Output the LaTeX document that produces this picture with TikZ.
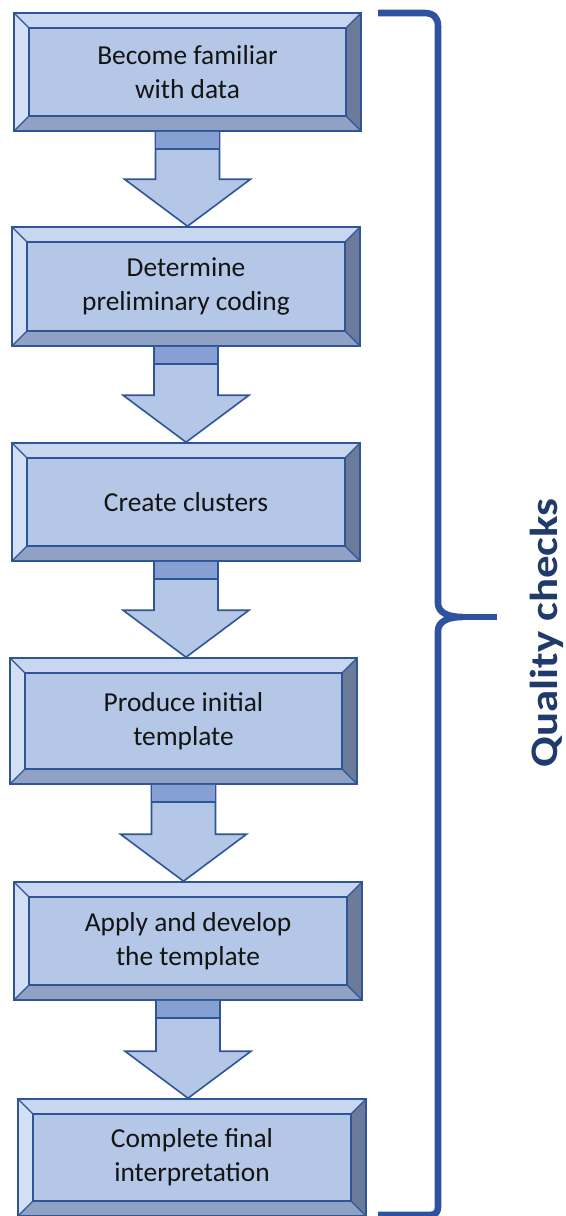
\documentclass[tikz,border=0pt]{standalone}
\usepackage{fontspec}
\setmainfont{Carlito}
\usetikzlibrary{calc}

\definecolor{face}{HTML}{B4C7E7}
\definecolor{bevtop}{HTML}{C8D6EF}
\definecolor{bevleft}{HTML}{D3DFF4}
\definecolor{bevright}{HTML}{6C7B9A}
\definecolor{bevbottom}{HTML}{90A2C3}
\definecolor{edge}{HTML}{2F5597}
\definecolor{banddark}{HTML}{3F62AC}
\definecolor{bandmid}{HTML}{86A0D4}
\definecolor{bracecol}{HTML}{2E51A0}
\definecolor{labelcol}{HTML}{203A6C}
\definecolor{boxtext}{HTML}{141414}

\tikzset{
  bevelbox/.style={
    inner sep=0pt, align=center, text=boxtext,
    font=\fontsize{13.7}{17}\selectfont,
    fill=face, draw=edge, line width=0.8pt,
    path picture={
      \def\bv{7.5pt}
      \path (path picture bounding box.north west) coordinate (pnw)
            (path picture bounding box.south east) coordinate (pse);
      \coordinate (pne) at (pnw -| pse);
      \coordinate (psw) at (pnw |- pse);
      \coordinate (inw) at ($(pnw)+(\bv,-\bv)$);
      \coordinate (ine) at ($(pne)+(-\bv,-\bv)$);
      \coordinate (ise) at ($(pse)+(-\bv,\bv)$);
      \coordinate (isw) at ($(psw)+(\bv,\bv)$);
      \fill[bevtop] (pnw) -- (pne) -- (ine) -- (inw) -- cycle;
      \fill[bevleft] (pnw) -- (inw) -- (isw) -- (psw) -- cycle;
      \fill[bevright] (pne) -- (pse) -- (ise) -- (ine) -- cycle;
      \fill[bevbottom] (psw) -- (isw) -- (ise) -- (pse) -- cycle;
      \draw[edge, line width=0.6pt] (pnw) -- (inw) (pne) -- (ine)
            (pse) -- (ise) (psw) -- (isw);
      \draw[edge, line width=0.8pt, fill=face] (inw) rectangle (ise);
    }},
  flowarrow/.style={fill=face, draw=edge, line width=0.8pt, line join=miter},
  brace/.style={draw=bracecol, line width=3.3pt, line join=round},
}

% block arrow from the bottom of one box to the top of the next
\newcommand\blockarrow[2]{%
  \path let \p1=(#1.south), \p2=(#2.north) in
    [flowarrow] (\x1-16pt,\y1) -- (\x1-16pt,\y2+23.5pt) -- (\x1-31.5pt,\y2+23.5pt)
      -- (\x1,\y2) -- (\x1+31.5pt,\y2+23.5pt) -- (\x1+16pt,\y2+23.5pt)
      -- (\x1+16pt,\y1) -- cycle;
  \path let \p1=(#1.south) in
    [fill=banddark] (\x1-16pt,\y1) rectangle (\x1+16pt,\y1-4.5pt)
    [fill=bandmid] (\x1-16pt,\y1-4.5pt) rectangle (\x1+16pt,\y1-8.5pt);
  \path let \p1=(#1.south) in
    [draw=edge, line width=0.6pt] (\x1-16pt,\y1-8.5pt) -- (\x1+16pt,\y1-8.5pt)
    [draw=edge, line width=0.8pt] (\x1-16pt,\y1) -- (\x1-16pt,\y1-8.5pt)
    (\x1+16pt,\y1) -- (\x1+16pt,\y1-8.5pt);
}

\begin{document}
\begin{tikzpicture}[x=0.5pt, y=-0.5pt]
  \useasboundingbox (0,0) rectangle (566,1216);

  \node[bevelbox, minimum width=173.5pt, minimum height=59pt] (s1) at (187.5,72)
    {Become familiar\\with data};
  \node[bevelbox, minimum width=174pt, minimum height=59.5pt] (s2) at (186,286.5)
    {Determine\\preliminary coding};
  \node[bevelbox, minimum width=174pt, minimum height=59pt] (s3) at (186,502)
    {Create clusters};
  \node[bevelbox, minimum width=173.5pt, minimum height=63pt] (s4) at (183.5,721)
    {Produce initial\\template};
  \node[bevelbox, minimum width=174pt, minimum height=59pt] (s5) at (188,941)
    {Apply and develop\\the template};
  \node[bevelbox, minimum width=174pt, minimum height=58.5pt] (s6) at (192,1157.5)
    {Complete final\\interpretation};

  \blockarrow{s1}{s2}
  \blockarrow{s2}{s3}
  \blockarrow{s3}{s4}
  \blockarrow{s4}{s5}
  \blockarrow{s5}{s6}

  % curly bracket spanning all steps
  \draw[brace] (378,13) -- (424,13) .. controls (433,13) and (438,17) .. (438,26)
    -- (438,603) .. controls (438,612) and (447,617) .. (462,617)
    .. controls (447,617) and (438,622) .. (438,631)
    -- (438,1207) .. controls (438,1213) and (435,1215) .. (429,1215) -- (378,1215);
  \draw[brace] (462,617) -- (497,617);

  \node[rotate=90, inner sep=0pt, text=labelcol,
        font=\fontsize{19.5}{23}\selectfont\bfseries]
    (qc) at (547,633) {\scalebox{1.15}[1]{Quality checks}};
\end{tikzpicture}
\end{document}
